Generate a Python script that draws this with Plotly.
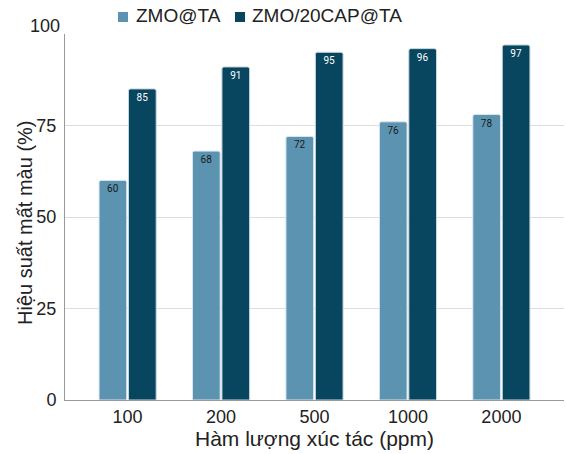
import plotly.graph_objects as go

categories = ["100", "200", "500", "1000", "2000"]
zmo_ta = [60, 68, 72, 76, 78]
zmo_cap_ta = [85, 91, 95, 96, 97]
series_names = ["ZMO@TA", "ZMO/20CAP@TA"]
y_ticks = [0, 25, 50, 75, 100]
y_tick_text = ["0", "25", "50", "75", ""]
top_tick_label = "100"

light = "#5b93b0"
dark = "#08455f"
colors = [light, dark]

fig = go.Figure()
fig.add_trace(go.Bar(
    x=categories, y=zmo_ta, name=series_names[0],
    marker=dict(color=light, line=dict(color="#d8e6ee", width=1), cornerradius=2),
    text=[str(v) for v in zmo_ta], textposition="inside", insidetextanchor="end",
    textfont=dict(color="#1a1a1a", size=10, family="Roboto"),
    textangle=0,
))
fig.add_trace(go.Bar(
    x=categories, y=zmo_cap_ta, name=series_names[1],
    marker=dict(color=dark, line=dict(color="#c8d6de", width=1), cornerradius=2),
    text=[str(v) for v in zmo_cap_ta], textposition="inside", insidetextanchor="end",
    textfont=dict(color="white", size=10, family="Roboto"),
    textangle=0,
))

# manual legend (plot area: x 65..564 px, y 34..400 px)
L, W, T, H = 65, 499, 34, 366
def px(x):
    return (x - L) / W
def py(y):
    return 1 + (T - y) / H

legend_items = [(118, 134), (235, 250)]
for (mx, tx), name, col in zip(legend_items, series_names, colors):
    fig.add_shape(type="rect", xref="paper", yref="paper",
                  x0=px(mx), x1=px(mx + 10), y0=py(22), y1=py(12),
                  fillcolor=col, line=dict(width=0))
    fig.add_annotation(xref="paper", yref="paper", x=px(tx), y=py(16),
                       xanchor="left", yanchor="middle", showarrow=False,
                       text=name, font=dict(size=19, color="#222"))

fig.add_annotation(xref="paper", yref="paper", x=px(25), y=(400 - 223) / H,
                   xanchor="center", yanchor="middle", showarrow=False,
                   textangle=-90, text="Hiệu suất mất màu (%)",
                   font=dict(size=20, color="#222"))

# raised top tick label (as in the original)
fig.add_annotation(xref="paper", yref="paper", x=px(62), y=py(26),
                   xanchor="right", yanchor="middle", showarrow=False,
                   text=top_tick_label, font=dict(size=18, color="#222"))

fig.update_layout(
    width=566, height=454,
    margin=dict(l=65, r=2, t=34, b=54),
    paper_bgcolor="white", plot_bgcolor="white",
    barmode="group", bargap=0.37, bargroupgap=0.06,
    font=dict(family="Liberation Sans, Arial", size=17, color="#222"),
    showlegend=False,
    uniformtext=dict(minsize=9, mode="show"),
)
fig.update_xaxes(
    type="category", range=[-0.67, 4.67],
    showline=True, linecolor="#999", linewidth=1,
    ticks="", tickfont=dict(size=18),
    title=dict(text="Hàm lượng xúc tác (ppm)", font=dict(size=21), standoff=2),
)
fig.update_yaxes(
    range=[0, 100], tickvals=y_ticks, ticktext=y_tick_text,
    showline=True, linecolor="#999", linewidth=1,
    showgrid=True, gridcolor="#dddddd",
    tickfont=dict(size=18), ticks="", ticklabelstandoff=4,
    zeroline=False,
)

fig.write_html("out.html")
